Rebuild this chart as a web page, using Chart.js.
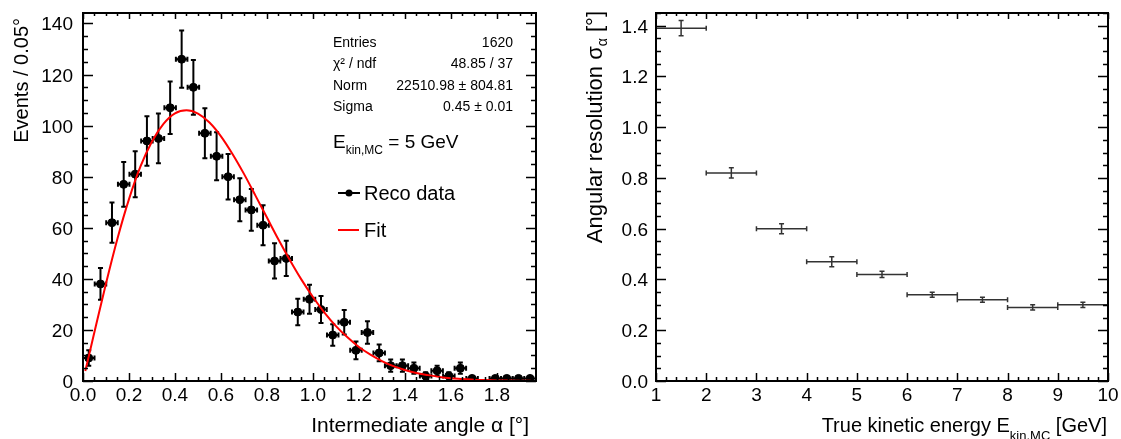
<!DOCTYPE html>
<html>
<head>
<meta charset="utf-8">
<script src="https://cdn.jsdelivr.net/npm/chart.js@4.4.1/dist/chart.umd.min.js"></script>
<style>
  html, body { margin: 0; padding: 0; background: #fff; }
  .pad { position: absolute; top: 0; height: 439px; }
  #left { left: 0; width: 560px; }
  #right { left: 560px; width: 561px; }
</style>
</head>
<body>
<div class="pad" id="left"><canvas id="angleChart" width="560" height="439"></canvas></div>
<div class="pad" id="right"><canvas id="resChart" width="561" height="439"></canvas></div>
<script>
// left pad: intermediate angle histogram (5 GeV)
const angleBins = [0.025, 0.076, 0.126, 0.177, 0.227, 0.278, 0.328, 0.379, 0.429, 0.480,
  0.530, 0.581, 0.631, 0.682, 0.732, 0.783, 0.833, 0.884, 0.934, 0.985,
  1.035, 1.086, 1.136, 1.187, 1.237, 1.288, 1.338, 1.389, 1.439, 1.490,
  1.540, 1.591, 1.641, 1.692, 1.742, 1.793, 1.843, 1.894, 1.944];
const angleCounts = [9, 38, 62, 77, 81, 94, 95, 107, 126, 115,
  97, 88, 80, 71, 67, 61, 47, 48, 27, 32,
  28, 18, 23, 12, 19, 11, 6, 6, 5, 2,
  4, 2, 5, 1, null, 1, 1, 1, 1];
const angleErrors = [3.0, 6.2, 7.9, 8.8, 9.0, 9.7, 9.7, 10.3, 11.2, 10.7,
  9.8, 9.4, 8.9, 8.4, 8.2, 7.8, 6.9, 6.9, 5.2, 5.7,
  5.3, 4.2, 4.8, 3.5, 4.4, 3.3, 2.4, 2.4, 2.2, 1.4,
  2.0, 1.4, 2.2, 1.0, null, 1.0, 1.0, 1.0, 1.0];
const angleHalfBin = 0.025;

const fitAngles = [0.01, 0.05, 0.10, 0.15, 0.20, 0.25, 0.30, 0.35, 0.40, 0.45,
  0.50, 0.55, 0.60, 0.65, 0.70, 0.75, 0.80, 0.85, 0.90, 0.95,
  1.00, 1.05, 1.10, 1.15, 1.20, 1.25, 1.30, 1.35, 1.40, 1.45,
  1.50, 1.55, 1.60, 1.65, 1.70, 1.75, 1.80, 1.85, 1.90, 1.95];
const fitValues = [3.9, 19.3, 38.2, 55.8, 71.2, 84.0, 93.8, 100.7, 104.8, 106.0,
  104.7, 101.2, 95.8, 88.9, 81.1, 72.6, 64.0, 55.4, 47.3, 39.7,
  32.9, 26.8, 21.5, 17.1, 13.3, 10.3, 7.8, 5.8, 4.3, 3.1,
  2.3, 1.6, 1.1, 0.8, 0.5, 0.35, 0.23, 0.15, 0.10, 0.06];

const angleXTicks = [0, 0.2, 0.4, 0.6, 0.8, 1.0, 1.2, 1.4, 1.6, 1.8];
const angleXLabels = ['0.0', '0.2', '0.4', '0.6', '0.8', '1.0', '1.2', '1.4', '1.6', '1.8'];
const angleYTicks = [0, 20, 40, 60, 80, 100, 120, 140];
const angleYLabels = ['0', '20', '40', '60', '80', '100', '120', '140'];

const statNames = ['Entries', 'χ² / ndf', 'Norm', 'Sigma'];
const statValues = ['1620', '48.85 / 37', '22510.98 ± 804.81', '0.45 ± 0.01'];

// right pad: resolution vs energy
const energyBins = [1.5, 2.5, 3.5, 4.5, 5.5, 6.5, 7.5, 8.5, 9.5];
const resolution = [1.39, 0.82, 0.60, 0.47, 0.42, 0.34, 0.32, 0.29, 0.30];
const resolutionErrors = [0.03, 0.02, 0.02, 0.02, 0.012, 0.01, 0.01, 0.01, 0.01];
const energyHalfBin = 0.5;

const energyXTicks = [1, 2, 3, 4, 5, 6, 7, 8, 9, 10];
const energyXLabels = ['1', '2', '3', '4', '5', '6', '7', '8', '9', '10'];
const resYTicks = [0, 0.2, 0.4, 0.6, 0.8, 1.0, 1.2, 1.4];
const resYLabels = ['0.0', '0.2', '0.4', '0.6', '0.8', '1.0', '1.2', '1.4'];

const FONT = '"Liberation Sans", Arial, Helvetica, sans-serif';

// draws pieces of text (for subscripts), left or right aligned
function richText(ctx, parts, x, y, align) {
  let w = 0;
  parts.forEach(p => { ctx.font = p.font; w += ctx.measureText(p.text).width; });
  let cx = align === 'right' ? x - w : x;
  ctx.textAlign = 'left';
  ctx.textBaseline = 'alphabetic';
  parts.forEach(p => {
    ctx.font = p.font;
    ctx.fillText(p.text, cx, y + (p.dy || 0));
    cx += ctx.measureText(p.text).width;
  });
}

function drawErrorBars(chart, xs, ys, errs, halfW, color, width, cap) {
  const { ctx, scales: { x, y } } = chart;
  ctx.save();
  ctx.strokeStyle = color;
  ctx.lineWidth = width;
  ctx.beginPath();
  xs.forEach((b, i) => {
    const v = ys[i];
    if (v === null) return;
    const px = x.getPixelForValue(b), py = y.getPixelForValue(v);
    const xl = x.getPixelForValue(b - halfW), xr = x.getPixelForValue(b + halfW);
    const yt = y.getPixelForValue(v + errs[i]), yb = y.getPixelForValue(Math.max(0, v - errs[i]));
    ctx.moveTo(xl, py); ctx.lineTo(xr, py);
    ctx.moveTo(xl, py - cap); ctx.lineTo(xl, py + cap);
    ctx.moveTo(xr, py - cap); ctx.lineTo(xr, py + cap);
    ctx.moveTo(px, yt); ctx.lineTo(px, yb);
    ctx.moveTo(px - cap, yt); ctx.lineTo(px + cap, yt);
    ctx.moveTo(px - cap, yb); ctx.lineTo(px + cap, yb);
  });
  ctx.stroke();
  ctx.restore();
}

// ROOT style frame: ticks inside on all four sides, labels outside
function rootFrame(o) {
  return {
    id: 'rootFrame',
    beforeDatasetsDraw(chart) { o.under(chart); },
    afterDraw(chart) {
      const { ctx, chartArea: a, scales: { x, y } } = chart;
      ctx.save();
      ctx.strokeStyle = '#000';
      ctx.lineWidth = 1.5;
      ctx.beginPath();
      for (let i = 0; ; i++) {
        const v = x.min + i * o.xMinor;
        if (v > x.max + 1e-9) break;
        const px = Math.round(x.getPixelForValue(v)) + 0.5;
        const major = o.xTicks.some(t => Math.abs(t - v) < 1e-6);
        ctx.moveTo(px, a.bottom); ctx.lineTo(px, a.bottom - (major ? 8 : 4));
        ctx.moveTo(px, a.top); ctx.lineTo(px, a.top + (major ? 6 : 3));
      }
      for (let i = 0; ; i++) {
        const v = y.min + i * o.yMinor;
        if (v > y.max + 1e-9) break;
        const py = Math.round(y.getPixelForValue(v)) + 0.5;
        const major = o.yTicks.some(t => Math.abs(t - v) < 1e-6);
        ctx.moveTo(a.left, py); ctx.lineTo(a.left + (major ? 10 : 5), py);
        ctx.moveTo(a.right, py); ctx.lineTo(a.right - (major ? 10 : 5), py);
      }
      ctx.stroke();
      ctx.lineWidth = 2;
      ctx.strokeRect(a.left, a.top, a.right - a.left, a.bottom - a.top);

      ctx.fillStyle = '#000';
      ctx.font = '19px ' + FONT;
      ctx.textAlign = 'center';
      ctx.textBaseline = 'alphabetic';
      o.xTicks.forEach((t, i) => ctx.fillText(o.xLabels[i], x.getPixelForValue(t), a.bottom + 20));
      ctx.textAlign = 'right';
      o.yTicks.forEach((t, i) => ctx.fillText(o.yLabels[i], a.left - o.yGap, y.getPixelForValue(t) + 7));

      // axis titles, right aligned at the axis ends
      richText(ctx, o.xTitle, a.right - o.xTitleInset, 432, 'right');
      ctx.save();
      ctx.translate(o.yTitleX, o.yTitleEnd);
      ctx.rotate(-Math.PI / 2);
      richText(ctx, o.yTitle, 0, 0, 'right');
      ctx.restore();
      o.extra(ctx);
      ctx.restore();
    }
  };
}

new Chart(document.getElementById('angleChart'), {
  type: 'scatter',
  data: {
    datasets: [
      {
        type: 'line',
        label: 'Fit',
        data: fitAngles.map((a, i) => ({ x: a, y: fitValues[i] })),
        borderColor: '#ff0000',
        borderWidth: 2,
        pointRadius: 0,
        cubicInterpolationMode: 'monotone',
        order: 0
      },
      {
        label: 'Reco data',
        data: angleBins.map((a, i) => ({ x: a, y: angleCounts[i] })),
        backgroundColor: '#000',
        borderColor: '#000',
        pointRadius: 4,
        order: 1
      }
    ]
  },
  options: {
    responsive: false,
    animation: false,
    layout: { padding: { left: 83, right: 24, top: 13, bottom: 58 } },
    plugins: { legend: { display: false }, tooltip: { enabled: false } },
    scales: {
      x: { type: 'linear', min: 0, max: 1.97, display: false },
      y: { type: 'linear', min: 0, max: 144.1, display: false }
    }
  },
  plugins: [rootFrame({
    xTicks: angleXTicks, xLabels: angleXLabels, xMinor: 0.05,
    yTicks: angleYTicks, yLabels: angleYLabels, yMinor: 5, yGap: 10,
    xTitle: [{ text: 'Intermediate angle α [°]', font: '21px ' + FONT }],
    xTitleInset: 7,
    yTitle: [{ text: 'Events / 0.05°', font: '20px ' + FONT }],
    yTitleX: 28, yTitleEnd: 18,
    under: chart => drawErrorBars(chart, angleBins, angleCounts, angleErrors, angleHalfBin, '#000', 2, 2.5),
    extra: ctx => {
      ctx.fillStyle = '#000';
      ctx.font = '14px ' + FONT;
      ctx.textBaseline = 'alphabetic';
      statNames.forEach((n, i) => {
        const yy = 47 + i * 21.3;
        ctx.textAlign = 'left';
        ctx.fillText(n, 333, yy);
        ctx.textAlign = 'right';
        ctx.fillText(statValues[i], 513, yy);
      });
      richText(ctx, [
        { text: 'E', font: '19px ' + FONT },
        { text: 'kin,MC', font: '12px ' + FONT, dy: 6 },
        { text: ' = 5 GeV', font: '19px ' + FONT }
      ], 333, 148, 'left');
      // legend
      ctx.lineWidth = 2;
      ctx.strokeStyle = '#000';
      ctx.beginPath(); ctx.moveTo(338, 193); ctx.lineTo(360, 193); ctx.stroke();
      ctx.beginPath(); ctx.arc(349, 193, 3.5, 0, Math.PI * 2); ctx.fill();
      ctx.strokeStyle = '#ff0000';
      ctx.beginPath(); ctx.moveTo(338, 230); ctx.lineTo(359, 230); ctx.stroke();
      ctx.textAlign = 'left';
      ctx.font = '20px ' + FONT;
      ctx.fillText('Reco data', 364, 200);
      ctx.fillText('Fit', 364, 237);
    }
  })]
});

new Chart(document.getElementById('resChart'), {
  type: 'scatter',
  data: {
    datasets: [{
      label: 'resolution',
      data: energyBins.map((e, i) => ({ x: e, y: resolution[i] })),
      pointRadius: 0
    }]
  },
  options: {
    responsive: false,
    animation: false,
    layout: { padding: { left: 96, right: 13, top: 13, bottom: 58 } },
    plugins: { legend: { display: false }, tooltip: { enabled: false } },
    scales: {
      x: { type: 'linear', min: 1, max: 10, display: false },
      y: { type: 'linear', min: 0, max: 1.45, display: false }
    }
  },
  plugins: [rootFrame({
    xTicks: energyXTicks, xLabels: energyXLabels, xMinor: 0.2,
    yTicks: resYTicks, yLabels: resYLabels, yMinor: 0.05, yGap: 8,
    xTitle: [
      { text: 'True kinetic energy E', font: '20px ' + FONT },
      { text: 'kin,MC', font: '13px ' + FONT, dy: 8 },
      { text: ' [GeV]', font: '20px ' + FONT }
    ],
    xTitleInset: 1,
    yTitle: [
      { text: 'Angular resolution σ', font: '22px ' + FONT },
      { text: 'α', font: '14px ' + FONT, dy: 5 },
      { text: ' [°]', font: '22px ' + FONT }
    ],
    yTitleX: 42, yTitleEnd: 11,
    under: chart => drawErrorBars(chart, energyBins, resolution, resolutionErrors, energyHalfBin, '#333', 1.5, 2.5),
    extra: () => {}
  })]
});
</script>
</body>
</html>
